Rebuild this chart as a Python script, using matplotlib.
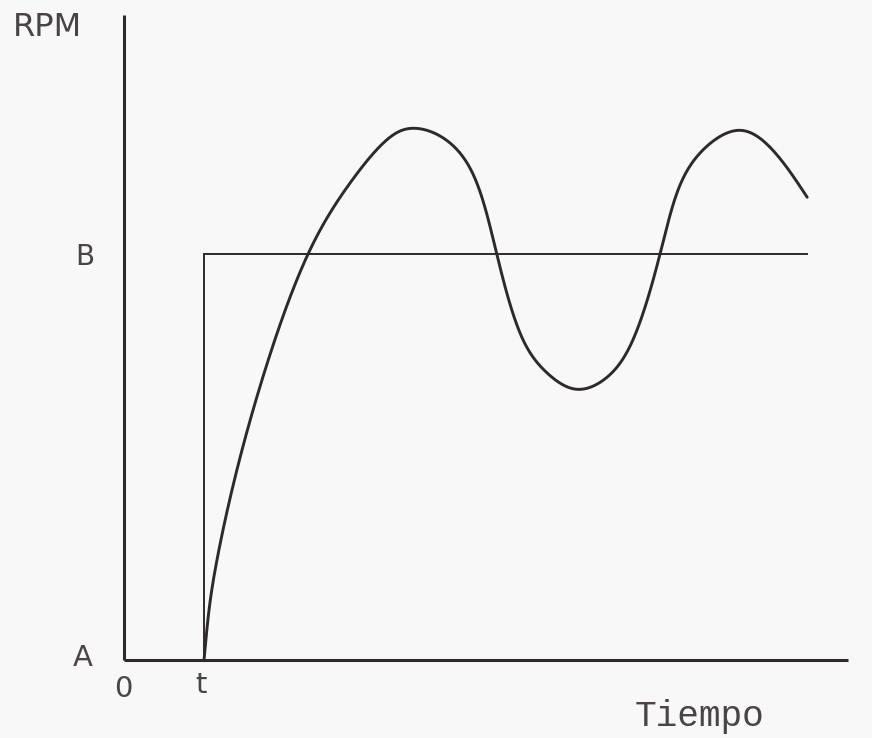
import numpy as np
import matplotlib
matplotlib.use("Agg")
import matplotlib.pyplot as plt

# time in units of t (step instant = 1), speed in units of B (set point = 1)
step_time = 1.0
set_point = 1.0
step_end = 8.54

resp_time = [1.00, 1.0625, 1.15, 1.35, 1.725, 2.30, 2.825, 3.325, 3.61, 3.95,
             4.325, 4.66, 4.99, 5.29, 5.66, 6.04, 6.36, 6.70, 6.95, 7.26,
             7.70, 8.11, 8.54]
resp_rpm = [0.00, 0.123, 0.234, 0.419, 0.690, 1.00, 1.175, 1.288, 1.310, 1.291,
            1.212, 1.00, 0.788, 0.707, 0.667, 0.697, 0.788, 1.00, 1.170, 1.261,
            1.305, 1.256, 1.140]

ink = "#2e2a2c"
label_ink = "#4a4446"


def natural_spline(s, v, s_new):
    # natural cubic spline v(s), second derivatives from the tridiagonal system
    n = len(s)
    h = np.diff(s)
    A = np.zeros((n, n))
    r = np.zeros(n)
    A[0, 0] = A[-1, -1] = 1.0
    for i in range(1, n - 1):
        A[i, i - 1] = h[i - 1]
        A[i, i] = 2 * (h[i - 1] + h[i])
        A[i, i + 1] = h[i]
        r[i] = 6 * ((v[i + 1] - v[i]) / h[i] - (v[i] - v[i - 1]) / h[i - 1])
    M = np.linalg.solve(A, r)
    k = np.clip(np.searchsorted(s, s_new) - 1, 0, n - 2)
    a = s[k + 1] - s_new
    b = s_new - s[k]
    hk = h[k]
    return (M[k] * a ** 3 / (6 * hk) + M[k + 1] * b ** 3 / (6 * hk)
            + (v[k] / hk - M[k] * hk / 6) * a + (v[k + 1] / hk - M[k + 1] * hk / 6) * b)


def smooth_curve(xs, ys, yscale, num=1500):
    # parametrise by chord length, with y stretched to the x units on screen
    xs = np.asarray(xs, float)
    ys = np.asarray(ys, float)
    d = np.sqrt(np.hypot(np.diff(xs), np.diff(ys) * yscale))
    s = np.concatenate([[0], np.cumsum(d)])
    s_new = np.linspace(0, s[-1], num)
    return natural_spline(s, xs, s_new), natural_spline(s, ys, s_new)


fig = plt.figure(figsize=(8.72, 7.38), dpi=100)
fig.patch.set_facecolor("#f8f8f8")
ax = fig.add_axes([0, 0, 1, 1])
ax.set_facecolor("#f8f8f8")
ax.set_xlim(-1.55, 9.35)
ax.set_ylim(-0.192, 1.626)
ax.axis("off")

# axes
ax.plot([0, 0], [0, 1.589], color=ink, lw=2.2, solid_capstyle="butt")
ax.plot([0, 9.05], [0, 0], color=ink, lw=2.2, solid_capstyle="butt")

# reference step from A to B at t
ax.plot([step_time, step_time, step_end], [0, set_point, set_point],
        color=ink, lw=1.4, solid_joinstyle="miter")

# speed response
cx, cy = smooth_curve(resp_time, resp_rpm, 406 / 80)
ax.plot(cx, cy, color=ink, lw=2.1, solid_capstyle="round")

sans = "DejaVu Sans"
ax.text(-0.96, 1.559, "RPM", fontsize=23, color=label_ink, ha="center",
        va="center", family=sans)
ax.text(-0.49, 0.993, "B", fontsize=20, color=label_ink, ha="center",
        va="center", family=sans)
ax.text(-0.51, 0.005, "A", fontsize=21, color=label_ink, ha="center",
        va="center", family=sans)
ax.text(-0.0125, -0.071, "0", fontsize=21, color=label_ink, ha="center",
        va="center", family=sans)
ax.text(0.96, -0.062, "t", fontsize=21, color=label_ink, ha="center",
        va="center", family=sans)
ax.text(7.2, -0.138, "Tiempo", fontsize=26, color=label_ink, ha="center",
        va="center", family="Liberation Mono")

fig.savefig("out.png", dpi=100, facecolor=fig.get_facecolor())
